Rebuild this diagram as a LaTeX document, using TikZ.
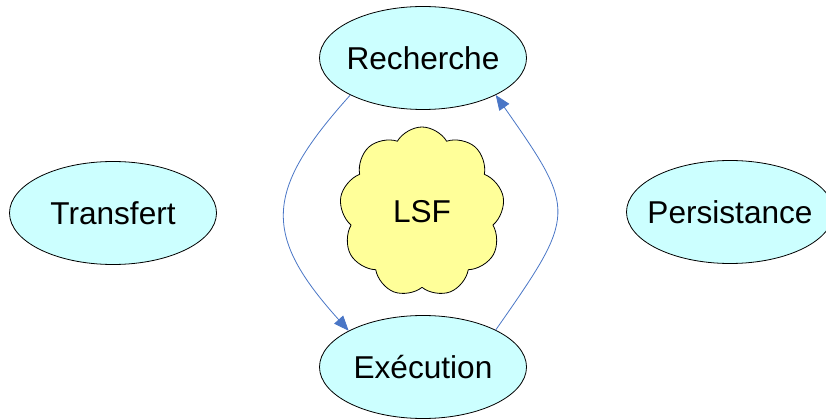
\documentclass[tikz,border=0pt]{standalone}
\usepackage{fontspec}
\setmainfont{Liberation Sans}
\usepackage{tikz}
\usetikzlibrary{arrows.meta, shapes.geometric, shapes.symbols}

\definecolor{phasecyan}{HTML}{CCFFFF}
\definecolor{cloudyellow}{HTML}{FFFF99}
\definecolor{flowblue}{HTML}{4A76C6}

\begin{document}
\begin{tikzpicture}[
    x=1pt, y=-1pt,
    line cap=round,
    line join=round,
    phase/.style={ellipse, draw=black, line width=0.8pt, fill=phasecyan,
        minimum width=207pt, minimum height=103pt,
        inner xsep=-10pt, inner ysep=0pt,
        font=\fontsize{31.6}{38}\selectfont},
    flow/.style={flowblue, line width=0.8pt,
        -{Triangle[length=15pt, width=12pt]}}
]

% --- Frame ---
\useasboundingbox (0,0) rectangle (826,419);

% --- Phases ---
\node[phase] (rech)  at (423, 58)  {Recherche};
\node[phase] (exec)  at (423, 367) {Exécution};
\node[phase] (trans) at (113, 213) {Transfert};
\node[phase] (pers)  at (730, 212) {Persistance};

% --- Central cloud ---
\node[cloud, cloud puffs=9, cloud puff arc=120, aspect=0.95,
      draw=black, line width=0.8pt, fill=cloudyellow,
      minimum width=165pt, minimum height=170pt, inner sep=0pt,
      font=\fontsize{31.6}{38}\selectfont] (lsf) at (422, 212) {LSF};

% --- Cycle between search and execution ---
\draw[flow] (rech.207) to[out=228, in=132, looseness=1.4] (exec.154);
\draw[flow] (exec.27) to[out=55, in=-55, looseness=1.55] (rech.333);

\end{tikzpicture}
\end{document}
